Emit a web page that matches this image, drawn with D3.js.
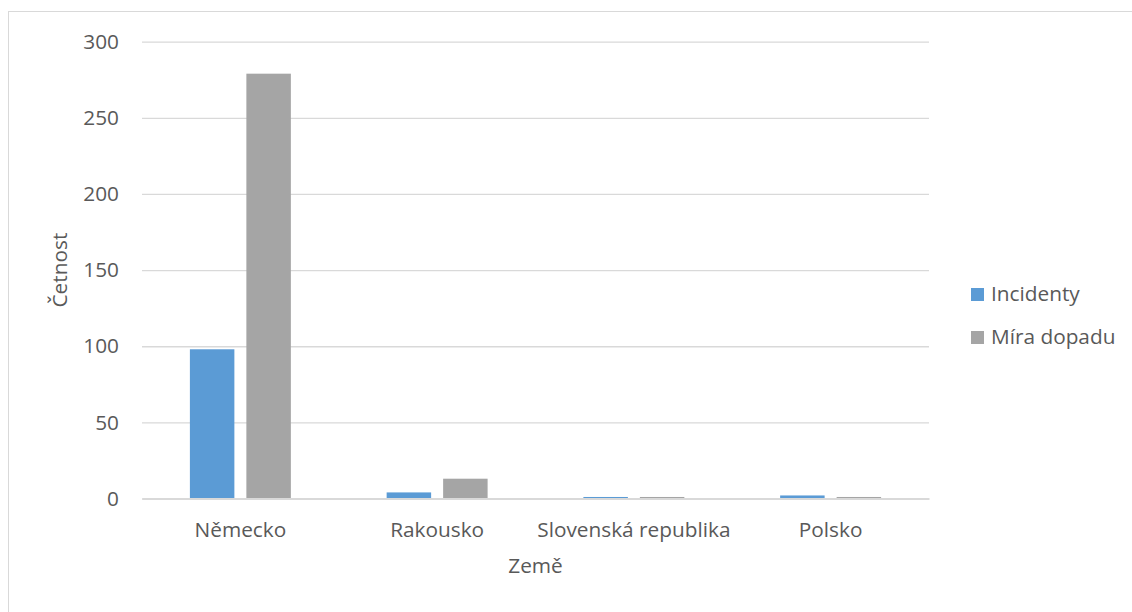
<!DOCTYPE html>
<html>
<head>
<meta charset="utf-8">
<script src="https://cdn.jsdelivr.net/npm/d3@7"></script>
<style>
  html, body { margin: 0; padding: 0; background: #fff; }
  svg { display: block; }
  text { font-family: "Open Sans", sans-serif; fill: #595959; }
</style>
</head>
<body>
<svg id="chart" width="1132" height="612"></svg>
<script>
const categories = ["Německo", "Rakousko", "Slovenská republika", "Polsko"];
const seriesNames = ["Incidenty", "Míra dopadu"];
const incidenty = [98, 4, 1, 2];
const miraDopadu = [279, 13, 1, 1];
const yTicks = [0, 50, 100, 150, 200, 250, 300];
const colors = ["#5B9BD5", "#A5A5A5"];
const xTitle = "Země";
const yTitle = "Četnost";

const FS = 20.8;
const seriesValues = [incidenty, miraDopadu];
const rows = categories.map((c, i) => ({
  cat: c,
  vals: seriesNames.map((s, j) => ({ s, v: seriesValues[j][i], j }))
}));

const svg = d3.select("#chart");
const plot = { left: 142, right: 929, top: 41.7, bottom: 498.5 };

// outer frame
svg.append("rect")
  .attr("x", 8.5).attr("y", 11.5)
  .attr("width", 1200).attr("height", 700)
  .attr("fill", "none").attr("stroke", "#D9D9D9").attr("stroke-width", 1);

const x = d3.scaleBand().domain(categories).range([plot.left, plot.right]).paddingInner(0).paddingOuter(0);
const xs = d3.scaleBand().domain(seriesNames).range([0, x.bandwidth()]).paddingInner(0.2124).paddingOuter(0.848);
const y = d3.scaleLinear().domain([0, 300]).range([plot.bottom, plot.top]);

// gridlines + y labels via axis
const yAxis = d3.axisLeft(y).tickValues(yTicks).tickSize(-(plot.right - plot.left)).tickPadding(23);
const gy = svg.append("g").attr("transform", `translate(${plot.left},0)`).call(yAxis);
gy.select(".domain").remove();
gy.selectAll(".tick line").attr("stroke", "#D9D9D9").attr("stroke-width", 1.3);
gy.selectAll(".tick text").attr("font-size", FS).attr("fill", "#595959")
  .style("font-family", "'Open Sans', sans-serif");

// bars
const groups = svg.append("g").selectAll("g").data(rows).join("g")
  .attr("transform", d => `translate(${x(d.cat)},0)`);
groups.selectAll("rect").data(d => d.vals).join("rect")
  .attr("x", d => xs(d.s))
  .attr("width", xs.bandwidth())
  .attr("y", d => y(d.v))
  .attr("height", d => y(0) - y(d.v))
  .attr("fill", d => colors[d.j]);

// x axis baseline + labels
const xAxis = d3.axisBottom(x).tickSize(0).tickPadding(24);
const gx = svg.append("g").attr("transform", `translate(0,${plot.bottom})`).call(xAxis);
gx.select(".domain").attr("stroke", "#D9D9D9").attr("stroke-width", 2);
gx.selectAll(".tick text").attr("font-size", FS).attr("fill", "#595959")
  .style("font-family", "'Open Sans', sans-serif");

// axis titles
svg.append("text")
  .attr("x", (plot.left + plot.right) / 2).attr("y", 573)
  .attr("text-anchor", "middle").attr("font-size", FS)
  .text(xTitle);
svg.append("text")
  .attr("transform", `translate(67,${(plot.top + plot.bottom) / 2}) rotate(-90)`)
  .attr("text-anchor", "middle").attr("font-size", FS)
  .text(yTitle);

// legend
const lg = svg.append("g").selectAll("g").data(seriesNames).join("g")
  .attr("transform", (d, i) => `translate(971,${288 + i * 43})`);
lg.append("rect").attr("width", 13).attr("height", 13).attr("fill", (d, i) => colors[i]);
lg.append("text").attr("x", 20).attr("y", 12.5).attr("font-size", FS).text(d => d);
</script>
</body>
</html>
